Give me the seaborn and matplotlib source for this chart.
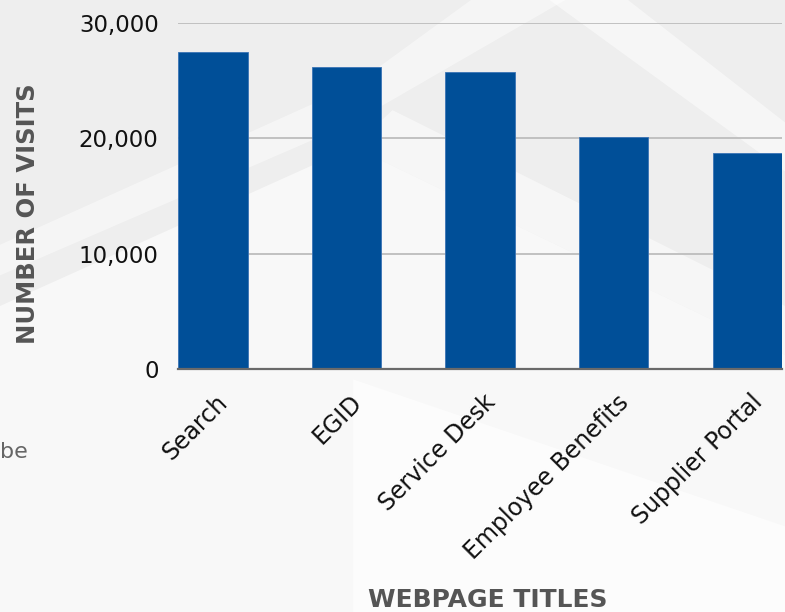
import matplotlib
matplotlib.use("Agg")
import matplotlib.pyplot as plt
import matplotlib.transforms as mtransforms
import seaborn as sns
import pandas as pd
from matplotlib.patches import Polygon
from matplotlib.ticker import FuncFormatter, FixedLocator

categories = ["Search", "EGID", "Service Desk", "Employee Benefits", "Supplier Portal"]
visits = [27500, 26150, 25700, 20100, 18750]
yticks = [0, 10000, 20000, 30000]

df = pd.DataFrame({"page": categories, "visits": visits})

sns.set_theme(style="white")
plt.rcParams["font.family"] = ["DejaVu Sans"]

fig = plt.figure(figsize=(7.85, 6.12), dpi=100, facecolor="#eeeeee")

# background decoration axes (slide-like light diagonal bands)
bgax = fig.add_axes([0, 0, 1, 1], zorder=-5)
bgax.set_xlim(0, 1)
bgax.set_ylim(0, 1)
bgax.axis("off")
bg = [
    ([(0, 0), (0, 0.50), (0.45, 0.76), (1, 0.42), (1, 0)], "white", 0.6),
    ([(0.45, 0.76), (1, 0.42), (1, 0.50), (0.5, 0.82)], "white", 0.5),
    ([(0, 0.60), (0.45, 0.86), (0.6, 1.0), (0.72, 1.0), (0.45, 0.80), (0, 0.55)], "white", 0.45),
    ([(0.45, 0), (0.45, 0.38), (1, 0.14), (1, 0)], "white", 0.6),
    ([(0.7, 1.0), (1, 0.72), (1, 0.80), (0.8, 1.0)], "white", 0.5),
]
for pts, c, a in bg:
    bgax.add_patch(Polygon(pts, closed=True, facecolor=c, edgecolor="none", alpha=a))

ax = fig.add_axes([0.2268, 0.3966, 0.7694, 0.5663], zorder=1)
ax.set_facecolor("none")

sns.barplot(data=df, x="page", y="visits", color="#004f98", width=0.52,
            saturation=1, ax=ax, zorder=3)
for p in ax.patches:
    p.set_edgecolor("#3a73b5")
    p.set_linewidth(0.6)

ax.set_xlim(-0.26, 4.26)
ax.set_ylim(0, 30000)
ax.yaxis.set_major_locator(FixedLocator(yticks))
ax.yaxis.set_major_formatter(FuncFormatter(lambda v, _: f"{int(v):,}"))
ax.grid(axis="y", color="#bdbdbd", linewidth=1.3, zorder=0)
ax.set_axisbelow(True)

for s in ["top", "right", "left"]:
    ax.spines[s].set_visible(False)
ax.spines["bottom"].set_color("#6a6a6a")
ax.spines["bottom"].set_linewidth(1.6)
ax.spines["bottom"].set_zorder(4)

ax.tick_params(axis="y", length=0, pad=14, labelsize=16.5, labelcolor="#111111")
ax.tick_params(axis="x", length=0, pad=15, labelsize=17, labelcolor="#111111")
offset = mtransforms.ScaledTranslation(3 / 100, 0, fig.dpi_scale_trans)
for lab in ax.get_xticklabels():
    lab.set_rotation(45)
    lab.set_ha("right")
    lab.set_rotation_mode("anchor")
    lab.set_transform(lab.get_transform() + offset)

ax.set_xlabel("")
ax.set_ylabel("")
fig.text(0.036, 0.651, "NUMBER OF VISITS", rotation=90, ha="center", va="center",
         fontsize=17.5, fontweight="bold", color="#555555")
fig.text(0.621, 0.008, "WEBPAGE TITLES", ha="center", va="baseline",
         fontsize=18, fontweight="bold", color="#555555")
fig.text(0.0, 0.262, "be", ha="left", va="center", fontsize=16, color="#666666")

fig.savefig("out.png", dpi=100, facecolor=fig.get_facecolor())
